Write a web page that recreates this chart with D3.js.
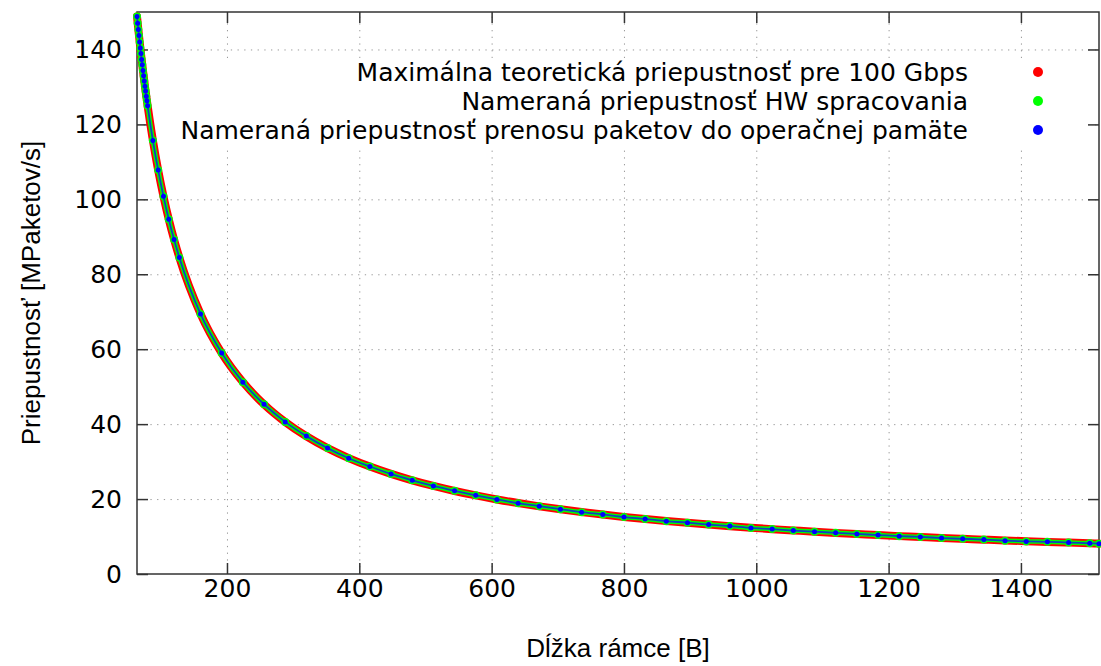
<!DOCTYPE html>
<html>
<head>
<meta charset="utf-8">
<script src="https://cdn.jsdelivr.net/npm/d3@7"></script>
<style>
body { margin: 0; background: #fff; }
.axis text { font-family: "DejaVu Sans", sans-serif; font-size: 25px; fill: #000; }
.axis line { stroke: #333; stroke-width: 1.5; }
.axis path { display: none; }
.grid line { stroke: #999; stroke-width: 1; stroke-dasharray: 1.3,5.4; }
.grid path { display: none; }
</style>
</head>
<body>
<div id="chart"></div>
<script>
// ##### data #####
var frameSizes = [64,65,66,67,68,69,70,71,72,73,74,75,76,77,78,79,80,88,96,104,112,120,128,
	160,192,224,256,288,320,352,384,416,448,480,512,544,576,608,640,672,704,736,768,800,
	832,864,896,928,960,992,1024,1056,1088,1120,1152,1184,1216,1248,1280,1312,1344,1376,
	1408,1440,1472,1504,1518];
var theoretical = [148.81,147.06,145.35,143.68,142.05,140.45,138.89,137.36,135.87,134.41,132.98,
	131.58,130.21,128.87,127.55,126.26,125.00,115.74,107.76,100.81,94.70,89.29,84.46,
	69.44,58.96,51.23,45.29,40.58,36.76,33.60,30.94,28.67,26.71,25.00,23.50,22.16,20.97,
	19.90,18.94,18.06,17.27,16.53,15.86,15.24,14.67,14.14,13.65,13.19,12.76,12.35,11.97,
	11.62,11.28,10.96,10.67,10.38,10.11,9.86,9.62,9.38,9.16,8.95,8.75,8.56,8.38,8.20,8.13];
var hwThroughput = [148.8,147.0,145.3,143.7,142.0,140.4,138.9,137.3,135.9,134.4,133.0,
	131.6,130.2,128.9,127.5,126.3,125.0,115.7,107.8,100.8,94.7,89.3,84.5,
	69.4,59.0,51.2,45.3,40.6,36.8,33.6,30.9,28.7,26.7,25.0,23.5,22.2,21.0,
	19.9,18.9,18.1,17.3,16.5,15.9,15.2,14.7,14.1,13.7,13.2,12.8,12.3,12.0,
	11.6,11.3,11.0,10.7,10.4,10.1,9.9,9.6,9.4,9.2,8.9,8.7,8.6,8.4,8.2,8.1];
var dmaThroughput = [148.8,147.0,145.3,143.7,142.0,140.4,138.9,137.3,135.9,134.4,133.0,
	131.6,130.2,128.9,127.5,126.3,125.0,115.7,107.8,100.8,94.7,89.3,84.5,
	69.4,59.0,51.2,45.3,40.6,36.8,33.6,30.9,28.7,26.7,25.0,23.5,22.2,21.0,
	19.9,18.9,18.1,17.3,16.5,15.9,15.2,14.7,14.1,13.7,13.2,12.8,12.3,12.0,
	11.6,11.3,11.0,10.7,10.4,10.1,9.9,9.6,9.4,9.2,8.9,8.7,8.6,8.4,8.2,8.1];
var xTicks = [200,400,600,800,1000,1200,1400];
var yTicks = [0,20,40,60,80,100,120,140];
var seriesNames = ['Maximálna teoretická priepustnosť pre 100 Gbps',
	'Nameraná priepustnosť HW spracovania',
	'Nameraná priepustnosť prenosu paketov do operačnej pamäte'];
var seriesColors = ['#ff0000','#00ff00','#0000ff'];

// ##### layout #####
var W = 1101, H = 666;
var margin = {top: 12, right: 2, bottom: 92, left: 137};
var width = W - margin.left - margin.right;
var height = H - margin.top - margin.bottom;

var svg = d3.select("#chart").append("svg")
	.attr("width", W)
	.attr("height", H);

var g = svg.append("g").attr("transform", "translate(" + margin.left + "," + margin.top + ")");

var x = d3.scaleLinear().domain([64, 1518]).range([0, width]);
var y = d3.scaleLinear().domain([0, 150]).range([height, 0]);

// grid
g.append("g").attr("class", "grid")
	.attr("transform", "translate(0," + height + ")")
	.call(d3.axisBottom(x).tickValues(xTicks).tickSize(-height).tickFormat(""));
g.append("g").attr("class", "grid")
	.call(d3.axisLeft(y).tickValues(yTicks.slice(1)).tickSize(-width).tickFormat(""));

// opaque key box
g.append("rect")
	.attr("x", 13).attr("y", 46)
	.attr("width", 940).attr("height", 90)
	.attr("fill", "#fff");

// axes + mirror ticks
g.append("g").attr("class", "axis")
	.attr("transform", "translate(0," + height + ")")
	.call(d3.axisBottom(x).tickValues(xTicks).tickFormat(d3.format("d"))
		.tickSizeInner(-11).tickSizeOuter(0).tickPadding(5));
g.append("g").attr("class", "axis")
	.call(d3.axisTop(x).tickValues(xTicks).tickSizeInner(-11).tickSizeOuter(0).tickFormat(""));
g.append("g").attr("class", "axis")
	.call(d3.axisLeft(y).tickValues(yTicks).tickFormat(d3.format("d"))
		.tickSizeInner(-11).tickSizeOuter(0).tickPadding(15));
g.append("g").attr("class", "axis")
	.attr("transform", "translate(" + width + ",0)")
	.call(d3.axisRight(y).tickValues(yTicks).tickSizeInner(-11).tickSizeOuter(0).tickFormat(""));

g.append("rect")
	.attr("width", width).attr("height", height)
	.attr("fill", "none")
	.attr("stroke", "#333")
	.attr("stroke-width", 1.5);

// ##### series #####
var line = d3.line()
	.curve(d3.curveMonotoneX)
	.x(function(d) { return x(d[0]); })
	.y(function(d) { return y(d[1]); });

var series = [theoretical, hwThroughput, dmaThroughput].map(function(vals) {
	return frameSizes.map(function(s, i) { return [s, vals[i]]; });
});

g.append("path").datum(series[0])
	.attr("d", line).attr("fill", "none")
	.attr("stroke", seriesColors[0]).attr("stroke-width", 8)
	.attr("stroke-linecap", "round").attr("stroke-linejoin", "round");

g.append("path").datum(series[1])
	.attr("d", line).attr("fill", "none")
	.attr("stroke", seriesColors[1]).attr("stroke-width", 4.5)
	.attr("stroke-linejoin", "round");
g.selectAll(".hw").data(series[1]).enter().append("circle")
	.attr("class", "hw")
	.attr("cx", function(d) { return x(d[0]); })
	.attr("cy", function(d) { return y(d[1]); })
	.attr("r", 4)
	.attr("fill", seriesColors[1]);

g.append("path").datum(series[2])
	.attr("d", line).attr("fill", "none")
	.attr("stroke", "#1040c0").attr("stroke-width", 1.8)
	.attr("stroke-linejoin", "round");
g.selectAll(".dma").data(series[2]).enter().append("circle")
	.attr("class", "dma")
	.attr("cx", function(d) { return x(d[0]); })
	.attr("cy", function(d) { return y(d[1]); })
	.attr("r", 2.5)
	.attr("fill", seriesColors[2]);

// ##### legend #####
var key = svg.append("g").selectAll(".key")
	.data(seriesNames)
	.enter().append("g")
	.attr("class", "key")
	.attr("transform", function(d, i) { return "translate(0," + (72 + i * 29) + ")"; });

key.append("text")
	.attr("x", 968)
	.attr("dy", "0.36em")
	.attr("text-anchor", "end")
	.style("font", "25px 'DejaVu Sans', sans-serif")
	.text(function(d) { return d; });

key.append("circle")
	.attr("cx", 1038)
	.attr("r", 5)
	.attr("fill", function(d, i) { return seriesColors[i]; });

// ##### axis titles #####
svg.append("text")
	.attr("x", margin.left + width / 2)
	.attr("y", 657)
	.attr("text-anchor", "middle")
	.style("font", "26px 'Liberation Sans', Arial, sans-serif")
	.text("Dĺžka rámce [B]");

svg.append("text")
	.attr("transform", "translate(40," + (margin.top + height / 2) + ") rotate(-90)")
	.attr("text-anchor", "middle")
	.style("font", "26px 'Liberation Sans', Arial, sans-serif")
	.text("Priepustnosť [MPaketov/s]");
</script>
</body>
</html>
